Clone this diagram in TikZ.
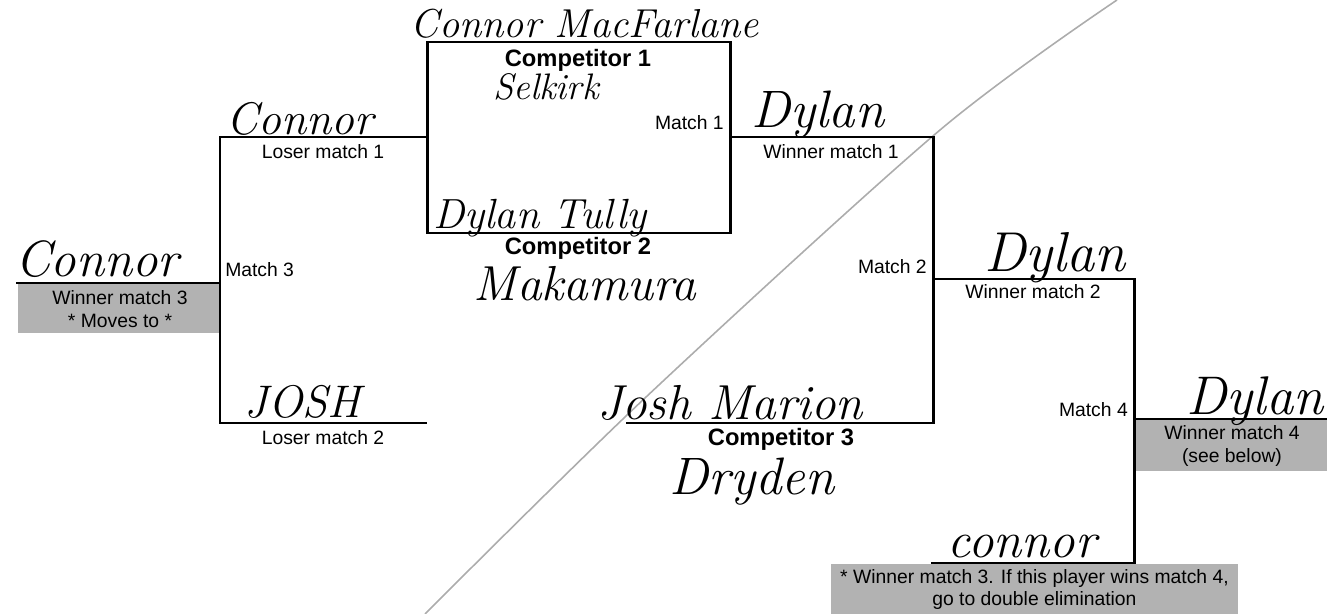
\documentclass[tikz,border=0pt]{standalone}
\usepackage{fontspec}
\newfontfamily\arial{Liberation Sans}
\usetikzlibrary{positioning}
\tikzset{
  every picture/.style={line width=1.7pt},
  bracket/.style={line width=1.7pt, line cap=rect},
  lbl/.style={font=\arial\fontsize{11}{12}\selectfont, inner sep=1pt},
  comp/.style={font=\arial\bfseries\fontsize{13.5}{15}\selectfont, inner sep=0pt},
  shade/.style={fill=gray!60, font=\arial\fontsize{11}{13}\selectfont, align=center, inner sep=0pt, anchor=north west},
  hand/.style={font=\itshape\fontsize{#1}{#1}\selectfont, inner sep=0pt, anchor=base},
  hand/.default=26,
  pen/.style={draw=gray!65, line width=0.9pt},
}
\begin{document}
\begin{tikzpicture}[x=0.02cm, y=-0.02cm]
  \useasboundingbox (0,0) rectangle (1327,614);

  % corners of the bracket
  \coordinate (c1a) at (427,42);
  \coordinate (c1b) at (730,42);
  \coordinate (c2a) at (427,233);
  \coordinate (c2b) at (730,233);
  \coordinate (m1) at (730,137);
  \coordinate (w1) at (933,137);
  \coordinate (m2bot) at (933,423);
  \coordinate (c3a) at (627,423);
  \coordinate (l1b) at (427,137);
  \coordinate (l1a) at (220,137);
  \coordinate (m3bot) at (220,423);
  \coordinate (l2b) at (425,423);
  \coordinate (w3a) at (17,283);
  \coordinate (w3b) at (220,283);
  \coordinate (w2a) at (933,279);
  \coordinate (w2b) at (1134,279);
  \coordinate (m4bot) at (1134,563);
  \coordinate (b1a) at (932,563);
  \coordinate (w4a) at (1134,419);
  \coordinate (w4b) at (1327,419);

  % stray pen stroke
  \draw[pen] plot[smooth] coordinates {(425,614) (645,398) (940,130) (1117,0)};

  % grey boxes
  \node[shade, minimum width=4.06cm, minimum height=0.98cm] (wm3) at (17,283) {Winner match 3\\* Moves to *};
  \node[shade, minimum width=3.86cm, minimum height=1.02cm] (wm4) at (1134,419) {Winner match 4\\(see below)};
  \node[shade, minimum width=8.16cm, minimum height=1.0cm] (dbl) at (829,563) {* Winner match 3. If this player wins match 4,\\go to double elimination};

  % bracket lines
  \draw[bracket] (c1a) -- (c1b) -- (c2b) -- (c2a) -- cycle;
  \draw[bracket] (m1) -- (w1) -- (m2bot) -- (c3a);
  \draw[bracket] (l1b) -- (l1a) -- (m3bot) -- (l2b);
  \draw[bracket] (w3a) -- (w3b);
  \draw[bracket] (w2a) -- (w2b) -- (m4bot) -- (b1a);
  \draw[bracket] (w4a) -- (w4b);

  % printed labels
  \node[comp] (comp1) at (578,60) {Competitor 1};
  \node[comp] (comp2) at (578,248) {Competitor 2};
  \node[comp] (comp3) at (781,439) {Competitor 3};
  \node[lbl, anchor=east] (match1) at (727,123) {Match 1};
  \node[lbl, anchor=east] (match2) at (930,267) {Match 2};
  \node[lbl, anchor=west] (match3) at (222,270) {Match 3};
  \node[lbl, anchor=east] (match4) at (1131,410) {Match 4};
  \node[lbl] (lose1) at (323,152) {Loser match 1};
  \node[lbl] (lose2) at (323,438) {Loser match 2};
  \node[lbl] (win1) at (831,152) {Winner match 1};
  \node[lbl] (win2) at (1033,292) {Winner match 2};

  % handwritten names
  \node[hand=23] (hmac) at (585,38) {Connor MacFarlane};
  \node[hand=21] (hsel) at (546,100) {Selkirk};
  \node[hand=30] (hdy1) at (818,128) {Dylan};
  \node[hand=26] (hco1) at (300,135) {Connor};
  \node[hand=24] (htul) at (540,229) {Dylan Tully};
  \node[hand=28] (hmak) at (585,301) {Makamura};
  \node[hand=29] (hco2) at (97,277) {Connor};
  \node[hand=26] (hjos) at (303,418) {JOSH};
  \node[hand=28] (hmar) at (730,419) {Josh Marion};
  \node[hand=30] (hdry) at (752,494) {Dryden};
  \node[hand=32] (hdy2) at (1055,272) {Dylan};
  \node[hand=31] (hdy3) at (1255,414) {Dylan};
  \node[hand=29] (hco3) at (1022,557) {connor};
\end{tikzpicture}
\end{document}
